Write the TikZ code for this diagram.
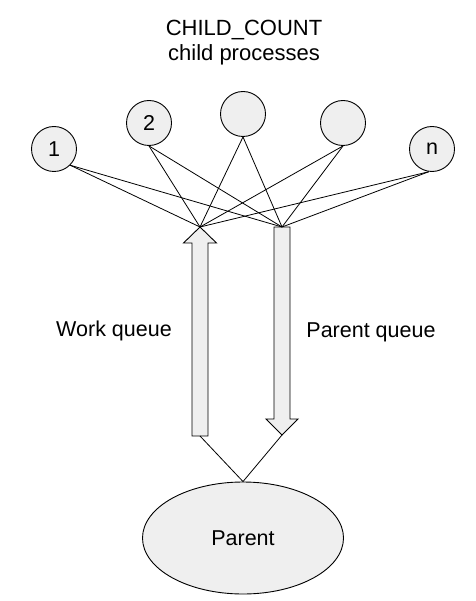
\documentclass[tikz,border=0pt]{standalone}
\usepackage{fontspec}
\setmainfont{Liberation Sans}
\usetikzlibrary{shapes.geometric}
\definecolor{shapefill}{HTML}{EFEFEF}
\begin{document}
\begin{tikzpicture}[x=1pt,y=-1pt,
  proc/.style={circle,draw,fill=shapefill,line width=0.9pt,minimum size=45pt,inner sep=0pt,font=\fontsize{21.5}{25}\selectfont},
  link/.style={line width=0.8pt},
  qarrow/.style={draw,fill=shapefill,line width=0.9pt,line join=miter},
  lbl/.style={font=\fontsize{21.5}{25}\selectfont,inner sep=0pt}]
\useasboundingbox (0,0) rectangle (475,601);
\node[lbl,align=center,font=\fontsize{22}{25}\selectfont] (title) at (244,43) {CHILD\_COUNT\\child processes};
\node[proc] (c1) at (54,149) {1};
\node[proc] (c2) at (149,123) {2};
\node[proc] (c3) at (243,114) {};
\node[proc] (c4) at (343,123) {};
\node[proc] (cn) at (432,149) {n};
\node[ellipse,draw,fill=shapefill,line width=0.9pt,minimum width=201pt,minimum height=112pt,inner sep=0pt,font=\fontsize{21.5}{25}\selectfont] (parent) at (243,538) {Parent};
\coordinate (wt) at (200,227);
\coordinate (wb) at (200,436);
\coordinate (pt) at (282,227);
\coordinate (pb) at (282,435);
% work queue arrow (up)
\path[qarrow] (wt) -- ++(16.5,16) -- ++(-8.5,0) |- ([xshift=-8pt]wb) -- ++(0,-193) -- ++(-8.5,0) -- cycle;
% parent queue arrow (down)
\path[qarrow] ([xshift=-8pt]pt) -- ([xshift=8pt]pt) -- ++(0,192) -- ++(8,0) -- (pb) -- ++(-16,-16) -- ++(8,0) -- cycle;
\foreach \c/\a in {c1/south east,c2/south,c3/south,c4/south,cn/-98} {
  \draw[link] (\c.\a) -- (wt);
  \draw[link] (\c.\a) -- (pt);
}
\draw[link] (wb) -- (parent.north) -- (pb);
\node[lbl] (wq) at (114,331) {Work queue};
\node[lbl] (pq) at (371,332) {Parent queue};
\end{tikzpicture}
\end{document}
